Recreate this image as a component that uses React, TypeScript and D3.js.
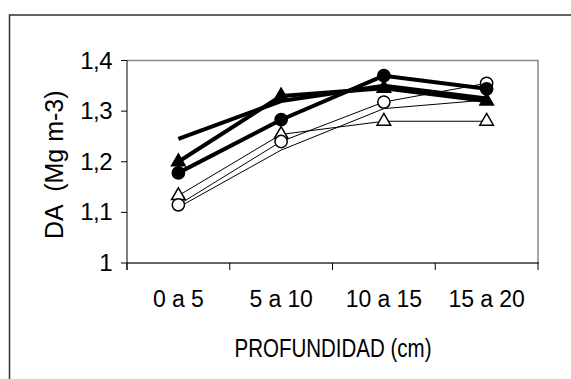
import React from 'react';
import * as d3 from 'd3';

const categories = ['0 a 5', '5 a 10', '10 a 15', '15 a 20'];
const yTicks = [1, 1.1, 1.2, 1.3, 1.4];
const yTickLabels = ['1', '1,1', '1,2', '1,3', '1,4'];

// series values
const thickTriangle = [1.2, 1.33, 1.345, 1.32];
const thickCircle = [1.178, 1.283, 1.37, 1.344];
const thickPlain = [1.245, 1.32, 1.35, 1.325];
const thinTriangle = [1.133, 1.254, 1.28, 1.28];
const thinCircle = [1.115, 1.24, 1.318, 1.355];
const thinPlain = [1.11, 1.223, 1.305, 1.322];

const series = [
  { values: thinPlain, width: 1, marker: 'none', fill: 'none' },
  { values: thinTriangle, width: 1, marker: 'triangle', fill: '#fff' },
  { values: thinCircle, width: 1, marker: 'circle', fill: '#fff' },
  { values: thickPlain, width: 4, marker: 'none', fill: 'none' },
  { values: thickTriangle, width: 4, marker: 'triangle', fill: '#000' },
  { values: thickCircle, width: 4, marker: 'circle', fill: '#000' },
];

const font = 'Liberation Sans, Arial, sans-serif';

export default function App() {
  const width = 571;
  const height = 379;
  const margin = { l: 127, r: 33, t: 60.5, b: 116 };

  const x = d3.scaleBand().domain(categories).range([margin.l, width - margin.r]);
  const y = d3.scaleLinear().domain([1, 1.4]).range([height - margin.b, margin.t]);
  const cx = (c: string) => (x(c) as number) + x.bandwidth() / 2;

  const line = d3.line<number>()
    .x((d, i) => cx(categories[i]))
    .y(d => y(d));

  const tri = d3.symbol(d3.symbolTriangle, 80)();
  const circ = d3.symbol(d3.symbolCircle, 118)();

  const x0 = margin.l;
  const x1 = width - margin.r;
  const y0 = y(1);
  const yTop = y(1.4);

  return (
    <svg width={width} height={height}
      style={{ position: 'absolute', left: 0, top: 0, background: '#fff' }}
      fontFamily={font}>
      {/* outer frame */}
      <path d={`M9.5,${height + 5}V15H${width + 5}`} fill="none" stroke="#333" strokeWidth={1.5} />

      {/* plot frame top/right */}
      <path d={`M${x0},${yTop}H${x1}V${y0}`} fill="none" stroke="#888" strokeWidth={1.5} />

      {/* y axis */}
      <line x1={x0} x2={x0} y1={yTop} y2={y0 + 7} stroke="#000" strokeWidth={1} />
      {yTicks.map((t, i) => (
        <g key={t} transform={`translate(0,${y(t)})`}>
          <line x1={x0 - 6} x2={x0} stroke="#000" strokeWidth={1} />
          <text x={x0 - 15} y={8} textAnchor="end" fontSize={24} fill="#000"
            letterSpacing={-0.5}>{yTickLabels[i]}</text>
        </g>
      ))}

      {/* x axis */}
      <line x1={x0} x2={x1 + 1} y1={y0} y2={y0} stroke="#333" strokeWidth={1.5} />
      {categories.map(c => (x(c) as number)).concat([x1]).map((p, i) => (
        <line key={i} x1={p} x2={p} y1={y0} y2={y0 + 7} stroke="#000" strokeWidth={1} />
      ))}
      {categories.map(c => (
        <text key={c} x={cx(c)} y={307} textAnchor="middle" fontSize={23} fill="#000"
          letterSpacing={-0.1}>{c}</text>
      ))}

      {/* titles */}
      <text x={333} y={357} textAnchor="middle" fontSize={25} fill="#000"
        textLength={197} lengthAdjust="spacingAndGlyphs">PROFUNDIDAD (cm)</text>
      <text transform={`translate(63,${(yTop + y0) / 2 + 3}) rotate(-90)`} textAnchor="middle"
        fontSize={25} fill="#000" xmlSpace="preserve">DA  (Mg m-3)</text>

      {/* series */}
      {series.map((s, i) => (
        <g key={i}>
          <path d={line(s.values) || ''} fill="none" stroke="#000" strokeWidth={s.width}
            strokeLinejoin="round" />
          {s.marker !== 'none' && s.values.map((v, j) => (
            <path key={j} d={s.marker === 'circle' ? circ || '' : tri || ''}
              transform={`translate(${cx(categories[j])},${y(v)})`}
              fill={s.fill} stroke="#000" strokeWidth={1.5} />
          ))}
        </g>
      ))}
    </svg>
  );
}
